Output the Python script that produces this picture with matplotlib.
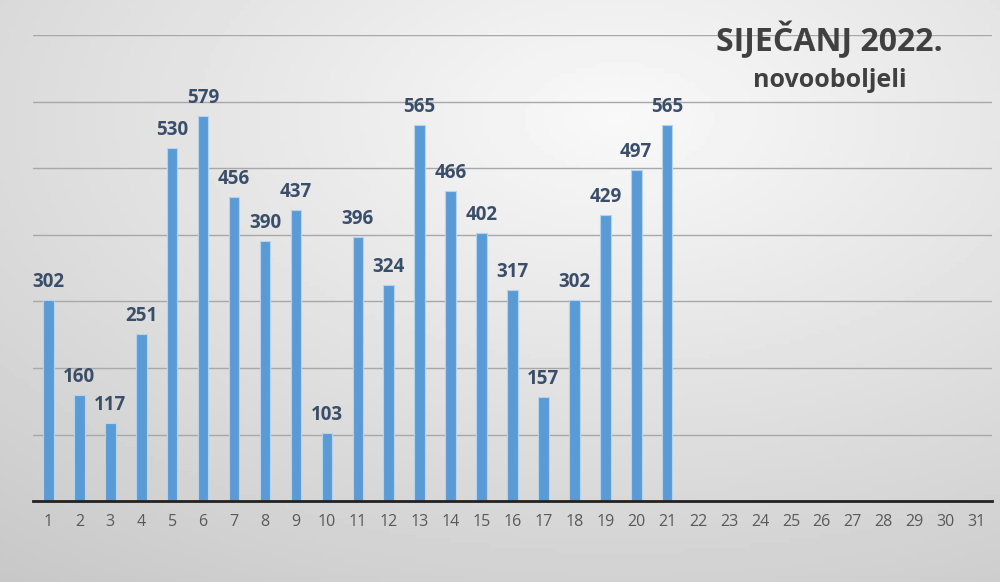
import matplotlib.pyplot as plt
import numpy as np

# podaci - sijecanj 2022, novooboljeli po danu
days = list(range(1, 32))
cases = [302, 160, 117, 251, 530, 579, 456, 390, 437, 103, 396, 324, 565, 466,
         402, 317, 157, 302, 429, 497, 565]
values = cases + [0] * (len(days) - len(cases))

fig = plt.figure(figsize=(10, 5.82), dpi=100)

# pozadina - radijalni gradijent, najsvjetlije oko naslova
bg = fig.add_axes([0, 0, 1, 1], zorder=-10)
gx, gy = np.meshgrid(np.linspace(0, 1, 200), np.linspace(0, 1, 120))
dist = np.sqrt((gx - 0.62) ** 2 + (gy - 0.2) ** 2)
grad = np.clip(0.975 - 0.19 * dist, 0, 1)
bg.imshow(grad, cmap='gray', vmin=0, vmax=1, aspect='auto',
          extent=[0, 1, 0, 1], origin='upper')
bg.set_axis_off()

ax = fig.add_axes([0.033, 0.139, 0.959, 0.801])
ax.set_facecolor('none')

x = np.arange(len(days))
ax.bar(x, values, width=0.34, color='#5b9bd5', edgecolor='#b4d3ef',
       linewidth=0.8, zorder=3)

for xi, v in zip(x, cases):
    ax.text(xi, v + 12, str(v), ha='center', va='bottom', fontsize=13.5,
            fontweight='bold', color='#3a4e6a', family='Open Sans', zorder=4)

ax.set_xlim(-0.5, len(days) - 0.5)
ax.set_ylim(0, 700)
ax.set_yticks(np.arange(100, 701, 100))
ax.set_yticklabels([])
ax.tick_params(axis='y', length=0)
ax.grid(True, axis='y', color='#a8a8a8', linewidth=1.0, zorder=0)

ax.set_xticks(x)
ax.set_xticklabels([str(d) for d in days], fontsize=11.5, color='#595959',
                   family='Open Sans')
ax.tick_params(axis='x', length=0, pad=9)

for s in ['top', 'right', 'left']:
    ax.spines[s].set_visible(False)
ax.spines['bottom'].set_color('#222222')
ax.spines['bottom'].set_linewidth(2)
ax.spines['bottom'].set_zorder(5)

# naslov
fig.text(0.829, 0.930, 'SIJEČANJ 2022.', ha='center', va='center', fontsize=23,
         fontweight='bold', color='#404040', family='Open Sans')
fig.text(0.830, 0.862, 'novooboljeli', ha='center', va='center', fontsize=18,
         fontweight='bold', color='#404040', family='Open Sans')

plt.savefig('out.png', dpi=100)
